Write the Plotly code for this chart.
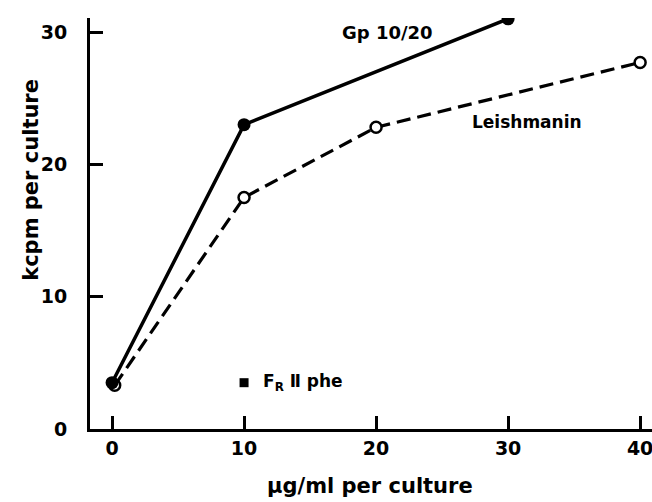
import plotly.graph_objects as go

# Data
gp_x = [0, 10, 30]
gp_y = [3.5, 23.0, 31.0]
leish_x = [0.2, 10, 20, 40]
leish_y = [3.3, 17.5, 22.8, 27.7]
fr_x = [10]
fr_y = [3.5]
x_ticks = [0, 10, 20, 30, 40]
y_ticks = [0, 10, 20, 30]

FONT = "DejaVu Sans"
fig = go.Figure()
fig.add_trace(go.Scatter(x=leish_x, y=leish_y, mode="lines+markers",
                         line=dict(color="black", width=3.2, dash="14px,7px"),
                         marker=dict(symbol="circle", size=11, color="white",
                                     line=dict(color="black", width=2.5)),
                         showlegend=False))
fig.add_trace(go.Scatter(x=gp_x, y=gp_y, mode="lines+markers",
                         line=dict(color="black", width=3.5),
                         marker=dict(symbol="circle", size=13, color="black"),
                         showlegend=False))
fig.add_trace(go.Scatter(x=fr_x, y=fr_y, mode="markers",
                         marker=dict(symbol="square", size=9, color="black"),
                         showlegend=False))

W, H = 652, 502
# screen plot area: x 90..652, y 18..429.5 (page margin removed below)
L, R, T, B = 90, 0, 18, H - 429.5
pw, ph = W - L - R, H - T - B

def px(x):
    return (x - L) / pw

def py(y):
    return (H - B - y) / ph

fig.update_layout(
    width=W, height=H, margin=dict(l=L, r=R, t=T, b=B),
    plot_bgcolor="white", paper_bgcolor="white",
    font=dict(family=FONT, color="black", size=18),
    xaxis=dict(range=[-1.67, 40.9], showline=True, linewidth=3, linecolor="black",
               showgrid=False, zeroline=False, ticks="inside", ticklen=13, tickwidth=2.5,
               tickcolor="black", tickvals=x_ticks, ticktext=[str(v) for v in x_ticks],
               tickfont=dict(family=FONT, size=19, weight="bold"), ticklabelstandoff=0,
               ticklabeloverflow="allow"),
    yaxis=dict(range=[0, 31.06], showline=True, linewidth=3, linecolor="black",
               showgrid=False, zeroline=False, ticks="inside", ticklen=13, tickwidth=2.5,
               tickcolor="black", tickvals=y_ticks, ticktext=[str(v) for v in y_ticks],
               tickfont=dict(family=FONT, size=19, weight="bold"), ticklabelstandoff=16,
               ticklabeloverflow="allow"),
)

annos = [
    dict(text="kcpm per culture", x=px(31), y=py(180), textangle=-90, size=21),
    dict(text="µg/ml per culture", x=px(370), y=py(487), textangle=0, size=21),
    dict(text="Gp 10/20", x=px(387), y=py(33), textangle=0, size=18),
    dict(text="Leishmanin", x=px(527), y=py(122), textangle=0, size=17),
]
for a in annos:
    fig.add_annotation(text=a["text"], x=a["x"], y=a["y"], xref="paper", yref="paper",
                       xanchor="center", yanchor="middle",
                       showarrow=False, textangle=a["textangle"],
                       font=dict(family=FONT, size=a["size"], weight="bold", color="black"))
fig.add_annotation(text="F<sub>R</sub> Ⅱ phe", x=px(261), y=py(383), xref="paper", yref="paper",
                   xanchor="left", yanchor="middle", showarrow=False,
                   font=dict(family=FONT, size=17, weight="bold", color="black"))

fig.write_html("out.html", config={"displayModeBar": False},
               post_script="document.body.style.margin='0';document.body.style.overflow='hidden';")
